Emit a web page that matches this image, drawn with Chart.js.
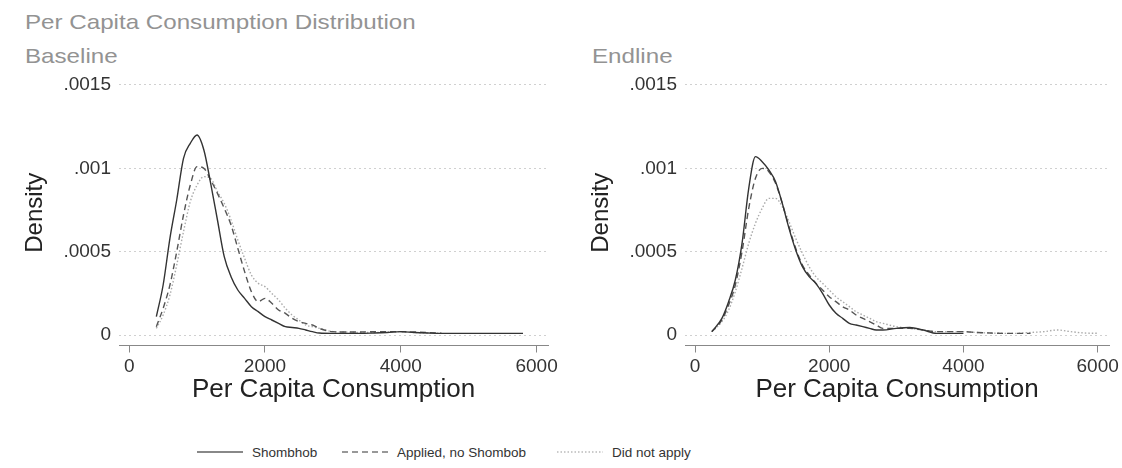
<!DOCTYPE html>
<html>
<head>
<meta charset="utf-8">
<script src="https://cdn.jsdelivr.net/npm/chart.js@4.4.1/dist/chart.umd.min.js"></script>
<style>
  body { margin: 0; background: #fff; font-family: Arial, "Liberation Sans", sans-serif; }
  #page { position: relative; width: 1122px; height: 468px; overflow: hidden; }
  .ttl { position: absolute; font-size: 21px; line-height: 21px; color: #939393; white-space: nowrap;
         transform: scaleX(1.15); transform-origin: left center; }
  canvas { position: absolute; top: 0; }
  .leg { position: absolute; top: 443px; height: 18px; display: flex; align-items: center;
         font-size: 13.5px; color: #333; white-space: nowrap; }
  .leg svg { margin-right: 9px; }
</style>
</head>
<body>
<div id="page">
  <div class="ttl" style="left:25px; top:11px;">Per Capita Consumption Distribution</div>
  <div class="ttl" style="left:25px; top:45px;">Baseline</div>
  <div class="ttl" style="left:592px; top:45px;">Endline</div>

  <canvas id="baseChart" width="561" height="420" style="left:0px;"></canvas>
  <canvas id="endChart" width="556" height="420" style="left:566px;"></canvas>

  <div class="leg" style="left:197px;">
    <svg width="46" height="4"><line x1="0" y1="2" x2="46" y2="2" stroke="#888" stroke-width="2"/></svg>Shombhob
  </div>
  <div class="leg" style="left:342px;">
    <svg width="46" height="4"><line x1="0" y1="2" x2="46" y2="2" stroke="#777" stroke-width="1.5" stroke-dasharray="6 4"/></svg>Applied, no Shombob
  </div>
  <div class="leg" style="left:557px;">
    <svg width="46" height="4"><line x1="0" y1="2" x2="46" y2="2" stroke="#bbb" stroke-width="1.5" stroke-dasharray="1.5 2"/></svg>Did not apply
  </div>
</div>

<script>
const seriesNames = ['Shombhob', 'Applied, no Shombob', 'Did not apply'];
const xTicks = [0, 2000, 4000, 6000];
const yTicks = [0, 0.0005, 0.001, 0.0015];

// Baseline: per capita consumption grid and estimated densities
const baseX = [400, 500, 600, 700, 800, 900, 1000, 1100, 1200, 1300, 1400, 1500, 1600, 1700, 1800, 1900,
  2000, 2100, 2200, 2300, 2400, 2500, 2600, 2700, 2800, 3000, 3200, 3400, 3600, 3800, 4000, 4200,
  4400, 4600, 4800, 5000, 5200, 5400, 5600, 5800];
const baseShombhob = [.00011, .00030, .00058, .00081, .00106, .00115, .00120, .00111, .00091, .00069, .00047, .00035, .00027, .00022, .00017, .00014,
  .00011, .00009, .00007, .00005, .000045, .00004, .00003, .00002, .000012, .00001, .00001, .00001, .000012, .000015, .00002, .000015,
  .000012, .00001, .00001, .00001, .00001, .00001, .00001, .00001];
const baseApplied = [.00005, .00016, .00030, .00050, .00072, .00090, .00101, .00100, .00093, .00085, .00076, .00066, .00052, .00038, .00026, .00020,
  .00022, .00019, .00015, .00013, .00010, .00008, .00007, .00006, .00004, .00002, .000018, .000018, .00002, .00002, .00002, .000018,
  .000015, .00001, null, null, null, null, null, null];
const baseNotApply = [.00004, .00012, .00024, .00042, .00062, .00080, .00090, .00095, .00094, .00086, .00079, .00069, .00057, .00046, .00036, .00031,
  .00029, .00025, .00021, .00016, .00012, .00009, .00006, .00005, .00004, .00002, .000018, .000015, .000015, .000018, .00002, .000015,
  .000012, .00001, null, null, null, null, null, null];

// Endline
const endX = [250, 400, 500, 600, 700, 800, 900, 1000, 1100, 1200, 1300, 1400, 1500, 1600, 1700, 1800, 1900,
  2000, 2100, 2200, 2300, 2400, 2500, 2600, 2700, 2800, 3000, 3200, 3400, 3600, 3800, 4000, 4200,
  4400, 4600, 4800, 5000, 5200, 5400, 5600, 5800, 6000];
const endShombhob = [.00002, .00010, .00020, .00033, .00055, .00088, .00107, .00104, .00099, .00092, .00079, .00064, .00051, .00041, .00035, .00031, .00025,
  .00018, .00013, .00010, .00007, .00006, .00005, .00004, .00003, .00003, .00004, .000045, .00003, .00001, .00001, .00001, null,
  null, null, null, null, null, null, null, null, null];
const endApplied = [.00002, .00009, .00018, .00030, .00050, .00076, .00094, .00100, .00098, .00091, .00079, .00065, .00052, .00042, .00036, .00031, .00027,
  .00023, .00020, .00017, .00015, .00012, .00010, .00008, .00006, .00004, .00004, .00004, .00003, .00002, .00002, .00002, .000015,
  .000012, .00001, .00001, .00001, null, null, null, null, null];
const endNotApply = [.00002, .00008, .00015, .00026, .00040, .00055, .00067, .00076, .00082, .00082, .00077, .00068, .00058, .00049, .00041, .00035, .00031,
  .00027, .00023, .00020, .00017, .00014, .00012, .00010, .00008, .00007, .00005, .00004, .00003, .00002, .00002, .00002, .000015,
  .000012, .00001, .00001, .000015, .00002, .00003, .00002, .000012, .00001];

const lineStyles = [
  { borderColor: '#333', borderWidth: 1.4, borderDash: [] },
  { borderColor: '#555', borderWidth: 1.4, borderDash: [6, 4] },
  { borderColor: '#aaa', borderWidth: 1.4, borderDash: [1.5, 2] }
];

function yLabel(v) {
  if (v === 0) return '0';
  return String(v).replace(/^0/, '');
}

function renderPanel(id, xs, series, padRight) {
  const datasets = series.map((vals, i) => ({
    label: seriesNames[i],
    data: xs.map((x, j) => ({ x: x, y: vals[j] })),
    borderColor: lineStyles[i].borderColor,
    borderWidth: lineStyles[i].borderWidth,
    borderDash: lineStyles[i].borderDash,
    pointRadius: 0,
    fill: false,
    cubicInterpolationMode: 'monotone'
  }));

  new Chart(document.getElementById(id), {
    type: 'line',
    data: { datasets: datasets },
    options: {
      responsive: false,
      animation: false,
      layout: { padding: { top: 80, right: padRight, left: 0, bottom: 0 } },
      plugins: { legend: { display: false }, tooltip: { enabled: false } },
      scales: {
        x: {
          type: 'linear',
          min: -150,
          max: 6170,
          afterBuildTicks: s => { s.ticks = xTicks.map(v => ({ value: v })); },
          afterFit: s => { s.height = 74.5; },
          border: { display: true, color: '#888', width: 1 },
          grid: { drawOnChartArea: false, drawTicks: true, tickLength: 7, color: '#888' },
          ticks: {
            autoSkip: false, maxRotation: 0, padding: 3, color: '#333',
            font: { family: 'Arial', size: 19 },
            callback: v => String(v)
          },
          title: {
            display: true, text: 'Per Capita Consumption', color: '#222',
            font: { family: 'Arial', size: 26 }, padding: { top: 0, bottom: 15 }
          }
        },
        y: {
          min: -0.000063,
          max: 0.00153,
          afterBuildTicks: s => { s.ticks = yTicks.map(v => ({ value: v })); },
          afterFit: s => { s.width = 119; },
          border: { display: false, dash: [2, 3] },
          grid: { drawTicks: false, color: '#d0d0d0' },
          ticks: {
            padding: 8, color: '#333',
            font: { family: 'Arial', size: 19 },
            callback: v => yLabel(v)
          },
          title: {
            display: true, text: 'Density', color: '#222',
            font: { family: 'Arial', size: 24 }, padding: { top: 21, bottom: 0 }
          }
        }
      }
    }
  });
}

renderPanel('baseChart', baseX, [baseShombhob, baseApplied, baseNotApply], 10.4);
renderPanel('endChart', endX, [endShombhob, endApplied, endNotApply], 8.5);
</script>
</body>
</html>
